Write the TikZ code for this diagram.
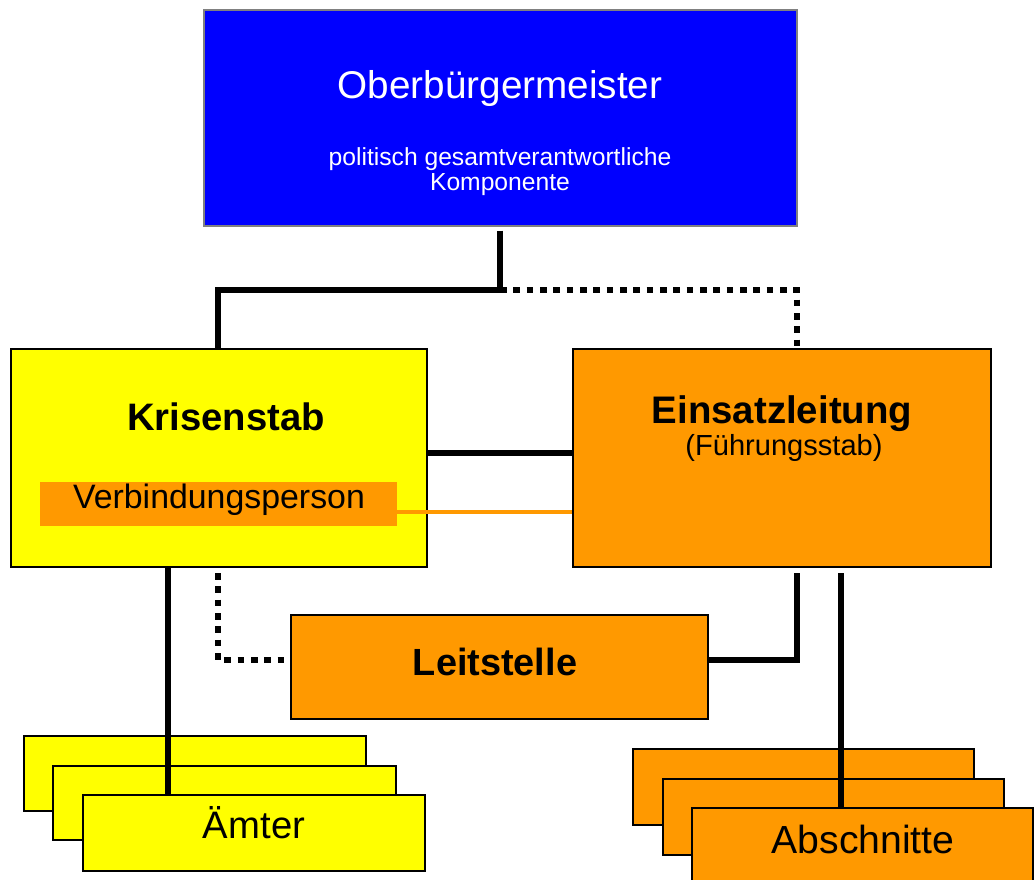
\documentclass[tikz,border=0pt]{standalone}
\usepackage{fontspec}
\setmainfont{Liberation Sans}
\usetikzlibrary{fit}
\definecolor{obblue}{HTML}{0000FF}
\definecolor{ksyellow}{HTML}{FFFF00}
\definecolor{elorange}{HTML}{FF9900}
\tikzset{
 box/.style={draw=black, line width=1pt, inner sep=0pt},
 conn/.style={line width=4.6pt, black},
 dotconn/.style={line width=4.6pt, black, dash pattern=on 5pt off 5pt},
 orangeconn/.style={line width=3pt, elorange},
 txt/.style={anchor=base, inner sep=0pt},
}
\begin{document}
\begin{tikzpicture}[x=0.75pt,y=-0.75pt]
\clip (0,0) rectangle (1036,879);
\fill[white] (0,0) rectangle (1036,879);
% boxes
\node[box, draw=gray, fill=obblue, fit={(204,10) (797,226)}] (ob) {};
\node[box, fill=ksyellow, fit={(11,349) (427,567)}] (ks) {};
\node[box, fill=elorange, fit={(573,349) (991,567)}] (el) {};
\node[inner sep=0pt, fill=elorange, fit={(40,482) (397,526)}] (vp) {};
\node[box, fill=elorange, fit={(291,615) (708,719)}] (ls) {};
\node[box, fill=ksyellow, fit={(24,736) (366,811)}] (am1) {};
\node[box, fill=ksyellow, fit={(53,766) (396,840)}] (am2) {};
\node[box, fill=ksyellow, fit={(83,795) (425,871)}] (am3) {};
\node[box, fill=elorange, fit={(633,749) (974,825)}] (ab1) {};
\node[box, fill=elorange, fit={(663,779) (1004,855)}] (ab2) {};
\node[box, fill=elorange, fit={(692,808) (1033,900)}] (ab3) {};
% texts
\node[txt, text=white, font=\fontsize{29}{34}\selectfont] (obt) at (500,98) {Oberbürgermeister};
\node[txt, text=white, font=\fontsize{18.5}{22}\selectfont] (obs1) at (500,165) {politisch gesamtverantwortliche};
\node[txt, text=white, font=\fontsize{18.5}{22}\selectfont] (obs2) at (500,190) {Komponente};
\node[txt, font=\fontsize{28.7}{34}\selectfont\bfseries] (kst) at (226,430) {Krisenstab};
\node[txt, font=\fontsize{25.4}{30}\selectfont] (vpt) at (219,508) {Verbindungsperson};
\node[txt, font=\fontsize{28.8}{34}\selectfont\bfseries] (elt) at (782,423) {Einsatzleitung};
\node[txt, font=\fontsize{21.8}{26}\selectfont] (elt2) at (784,455) {(Führungsstab)};
\node[txt, font=\fontsize{28.4}{34}\selectfont\bfseries] (lst) at (495,675) {Leitstelle};
\node[txt, font=\fontsize{28.7}{34}\selectfont] (amt) at (254,838) {Ämter};
\node[txt, font=\fontsize{29.4}{34}\selectfont] (abt) at (863,853) {Abschnitte};
% helper coordinates
\coordinate (j1) at (500,290);
\coordinate (xks) at (218,0);
\coordinate (xel) at (797,0);
\coordinate (xam) at (168,0);
\coordinate (xab) at (841,0);
\coordinate (ykl) at (0,453);
\coordinate (yvp) at (0,512);
\coordinate (yls) at (0,660);
% connectors
\draw[dotconn] (j1) -| (el.north -| xel);
\draw[conn, shorten <=3pt] (ob.south -| j1) -- (j1) -| (ks.north -| xks);
\draw[conn] (ks.east |- ykl) -- (el.west |- ykl);
\draw[orangeconn] (vp.east |- yvp) -- (el.west |- yvp);
\draw[conn] (ks.south -| xam) -- (am3.north -| xam);
\draw[dotconn, shorten <=4pt] (ks.south -| xks) |- (ls.west |- yls);
\draw[conn, shorten <=4pt] (el.south -| xel) |- (ls.east |- yls);
\draw[conn, shorten <=4pt] (el.south -| xab) -- (ab3.north -| xab);
\end{tikzpicture}
\end{document}
